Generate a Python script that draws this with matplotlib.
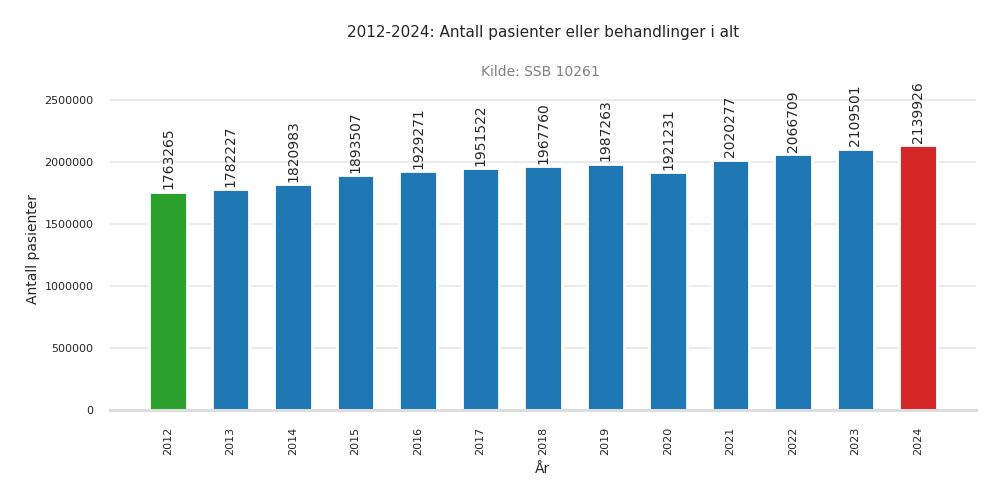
import matplotlib
matplotlib.use("Agg")
import matplotlib.pyplot as plt

years = ["2012", "2013", "2014", "2015", "2016", "2017", "2018",
         "2019", "2020", "2021", "2022", "2023", "2024"]
pasienter = [1763265, 1782227, 1820983, 1893507, 1929271, 1951522, 1967760,
             1987263, 1921231, 2020277, 2066709, 2109501, 2139926]
farger = ["#2ca02c"] + ["#1f77b4"] * 11 + ["#d62728"]

fig = plt.figure(figsize=(10, 5), dpi=100)
ax = fig.add_axes([0.11, 0.18, 0.866, 0.644])

x = list(range(len(years)))
bars = ax.bar(x, pasienter, width=0.6, color=farger, edgecolor="white",
              linewidth=2, zorder=3)

for xi, v in zip(x, pasienter):
    ax.text(xi, v + 20000, str(v), rotation=90, ha="center", va="bottom",
            fontsize=10, color="#262626", zorder=4)

ax.set_xlim(-0.93, 12.93)
ax.set_ylim(0, 2600000)
ax.set_yticks([0, 500000, 1000000, 1500000, 2000000, 2500000])
ax.set_yticklabels(["0", "500000", "1000000", "1500000", "2000000", "2500000"])
ax.set_xticks(x)
ax.set_xticklabels(years, rotation=90)
ax.tick_params(axis="both", length=0, labelsize=8, colors="#262626")
ax.tick_params(axis="y", pad=12)
ax.tick_params(axis="x", pad=12)

ax.grid(axis="y", color="#ebebeb", linewidth=1.5, zorder=0)
ax.set_axisbelow(True)
for s in ["top", "right", "left"]:
    ax.spines[s].set_visible(False)
ax.spines["bottom"].set_color("#dddddd")
ax.spines["bottom"].set_linewidth(2.2)
ax.spines["bottom"].set_zorder(5)

ax.set_ylabel("Antall pasienter", fontsize=10, color="#262626", labelpad=3)
ax.set_xlabel("År", fontsize=10, color="#262626", labelpad=5)

fig.text(0.543, 0.936, "2012-2024: Antall pasienter eller behandlinger i alt",
         ha="center", va="center", fontsize=11, color="#262626")
fig.text(0.54, 0.855, "Kilde: SSB 10261", ha="center", va="center",
         fontsize=10, color="#808080")

fig.savefig("out.png", dpi=100)
